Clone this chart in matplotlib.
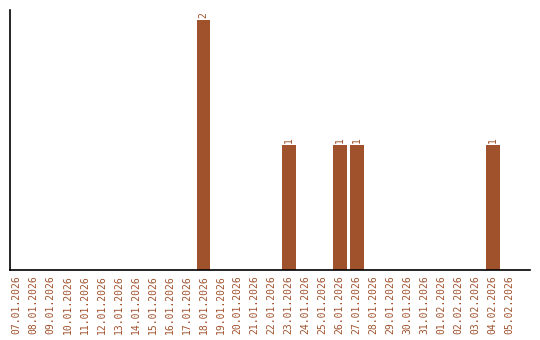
import matplotlib
matplotlib.use("Agg")
import matplotlib.pyplot as plt
import numpy as np

# dates from 07.01.2026 to 05.02.2026
days = ["07.01.2026", "08.01.2026", "09.01.2026", "10.01.2026", "11.01.2026",
        "12.01.2026", "13.01.2026", "14.01.2026", "15.01.2026", "16.01.2026",
        "17.01.2026", "18.01.2026", "19.01.2026", "20.01.2026", "21.01.2026",
        "22.01.2026", "23.01.2026", "24.01.2026", "25.01.2026", "26.01.2026",
        "27.01.2026", "28.01.2026", "29.01.2026", "30.01.2026", "31.01.2026",
        "01.02.2026", "02.02.2026", "03.02.2026", "04.02.2026", "05.02.2026"]
counts = [0, 0, 0, 0, 0, 0, 0, 0, 0, 0,
          0, 2, 0, 0, 0, 0, 1, 0, 0, 1,
          1, 0, 0, 0, 0, 0, 0, 0, 1, 0]

color = "#a0522d"

fig = plt.figure(figsize=(5.4, 3.4), dpi=100)
ax = fig.add_axes([10 / 540, 70 / 340, 520 / 540, 260 / 340])

x = np.arange(len(days))
ax.bar(x, counts, width=0.82, color=color)

# value labels above non-empty bars
for xi, c in zip(x, counts):
    if c > 0:
        ax.text(xi, c + 0.02, str(c), rotation=90, ha="center", va="bottom",
                color=color, fontsize=7, family="DejaVu Sans Mono")

ax.set_xlim(-0.38, 30.2)
ax.set_ylim(0, 2.08)
ax.set_xticks(x)
ax.set_xticklabels(days, rotation=90, color=color, fontsize=7,
                   family="DejaVu Sans Mono")
ax.tick_params(axis="x", length=0, pad=4)
ax.set_yticks([])

ax.spines["top"].set_visible(False)
ax.spines["right"].set_visible(False)
ax.spines["left"].set_linewidth(1.2)
ax.spines["bottom"].set_linewidth(1.2)

fig.savefig("out.png", dpi=100)
